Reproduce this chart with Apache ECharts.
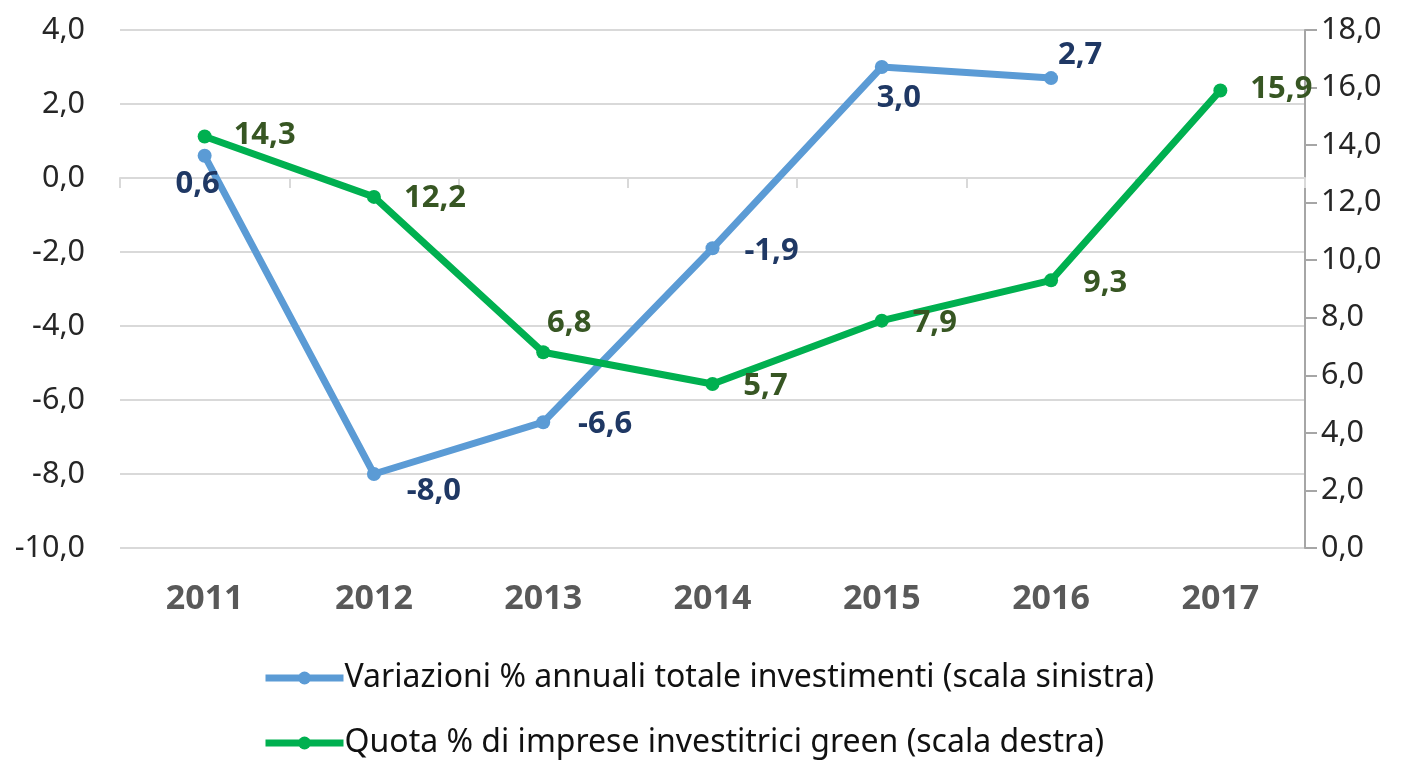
<!DOCTYPE html>
<html>
<head>
<meta charset="utf-8">
<script src="https://cdn.jsdelivr.net/npm/echarts@6/dist/echarts.min.js"></script>
<style>
html,body{margin:0;padding:0;background:#fff;}
#chart{width:1405px;height:760px;}
</style>
</head>
<body>
<div id="chart"></div>
<script>
var categories = ['2011','2012','2013','2014','2015','2016','2017'];
var investimenti = [0.6, -8.0, -6.6, -1.9, 3.0, 2.7, null];
var quotaGreen = [14.3, 12.2, 6.8, 5.7, 7.9, 9.3, 15.9];
var leftTicks = {min: -10, max: 4, interval: 2};
var rightTicks = {min: 0, max: 18, interval: 2};
var seriesNames = ['Variazioni % annuali totale investimenti (scala sinistra)', 'Quota % di imprese investitrici green (scala destra)'];

// label offsets (style only)
var blueOffsets = [[-7,28],[60,17],[62,2],[59,3],[17,31],[29,-23],[0,0]];
var greenOffsets = [[60,-1],[61,1],[26,-29],[53,2],[53,3],[54,3],[61,-1]];

var FONT = '"Noto Sans", "Open Sans", sans-serif';
function fmt(v){ return v.toFixed(1).replace('.', ','); }
function buildData(vals, offs, color){
  return vals.map(function(v,i){
    if (v === null) return null;
    return {value: v, label: {show: true, position: 'inside', offset: offs[i], color: color,
      fontFamily: FONT, fontSize: 31, fontWeight: 'bold', textBorderWidth: 0,
      formatter: function(p){ return fmt(p.value); }}};
  });
}
function legendFor(name, top){
  return {
    orient: 'horizontal', left: 257, top: top,
    itemWidth: 78, itemHeight: 16,
    lineStyle: {width: 7},
    textStyle: {fontFamily: FONT, fontSize: 32, color: '#111111', padding: [0,0,0,-4]},
    data: [name]
  };
}

var chart = echarts.init(document.getElementById('chart'), null, {renderer: 'canvas'});
chart.setOption({
  animation: false,
  backgroundColor: '#ffffff',
  grid: {left: 120, right: 100, top: 30, bottom: 212, containLabel: false},
  legend: [legendFor(seriesNames[0], 657), legendFor(seriesNames[1], 722)],
  xAxis: [{
    type: 'category', data: categories, boundaryGap: true,
    axisLine: {onZero: true, lineStyle: {color: '#d9d9d9', width: 2}},
    axisTick: {show: true, length: 10, lineStyle: {color: '#d9d9d9', width: 2}},
    axisLabel: {show: false}, splitLine: {show: false}
  },{
    type: 'category', data: categories, position: 'bottom', boundaryGap: true,
    axisLine: {show: false, onZero: false}, axisTick: {show: false},
    axisLabel: {show: true, margin: 34, fontFamily: FONT, fontSize: 34, fontWeight: 'bold', color: '#595959'},
    splitLine: {show: false}
  }],
  yAxis: [{
    type: 'value', min: leftTicks.min, max: leftTicks.max, interval: leftTicks.interval,
    axisLine: {show: false}, axisTick: {show: false},
    axisLabel: {margin: 35, fontFamily: FONT, fontSize: 30.5, color: '#262626', formatter: function(v){ return fmt(v); }},
    splitLine: {show: true, lineStyle: {color: '#d9d9d9', width: 2}}
  },{
    type: 'value', min: rightTicks.min, max: rightTicks.max, interval: rightTicks.interval, position: 'right',
    axisLine: {show: true, lineStyle: {color: '#a6a6a6', width: 2}},
    axisTick: {show: true, length: 12, inside: false, lineStyle: {color: '#a6a6a6', width: 2}},
    axisLabel: {margin: 16, fontFamily: FONT, fontSize: 30.5, color: '#262626', formatter: function(v){ return fmt(v); }},
    splitLine: {show: false}
  }],
  series: [{
    name: seriesNames[0], type: 'line', xAxisIndex: 0, yAxisIndex: 0,
    data: buildData(investimenti, blueOffsets, '#1f3864'),
    symbol: 'circle', symbolSize: 14, connectNulls: false,
    lineStyle: {color: '#5b9bd5', width: 7}, itemStyle: {color: '#5b9bd5'}
  },{
    name: seriesNames[1], type: 'line', xAxisIndex: 0, yAxisIndex: 1,
    data: buildData(quotaGreen, greenOffsets, '#375623'),
    symbol: 'circle', symbolSize: 14,
    lineStyle: {color: '#00b050', width: 7}, itemStyle: {color: '#00b050'}
  }]
});
</script>
</body>
</html>
